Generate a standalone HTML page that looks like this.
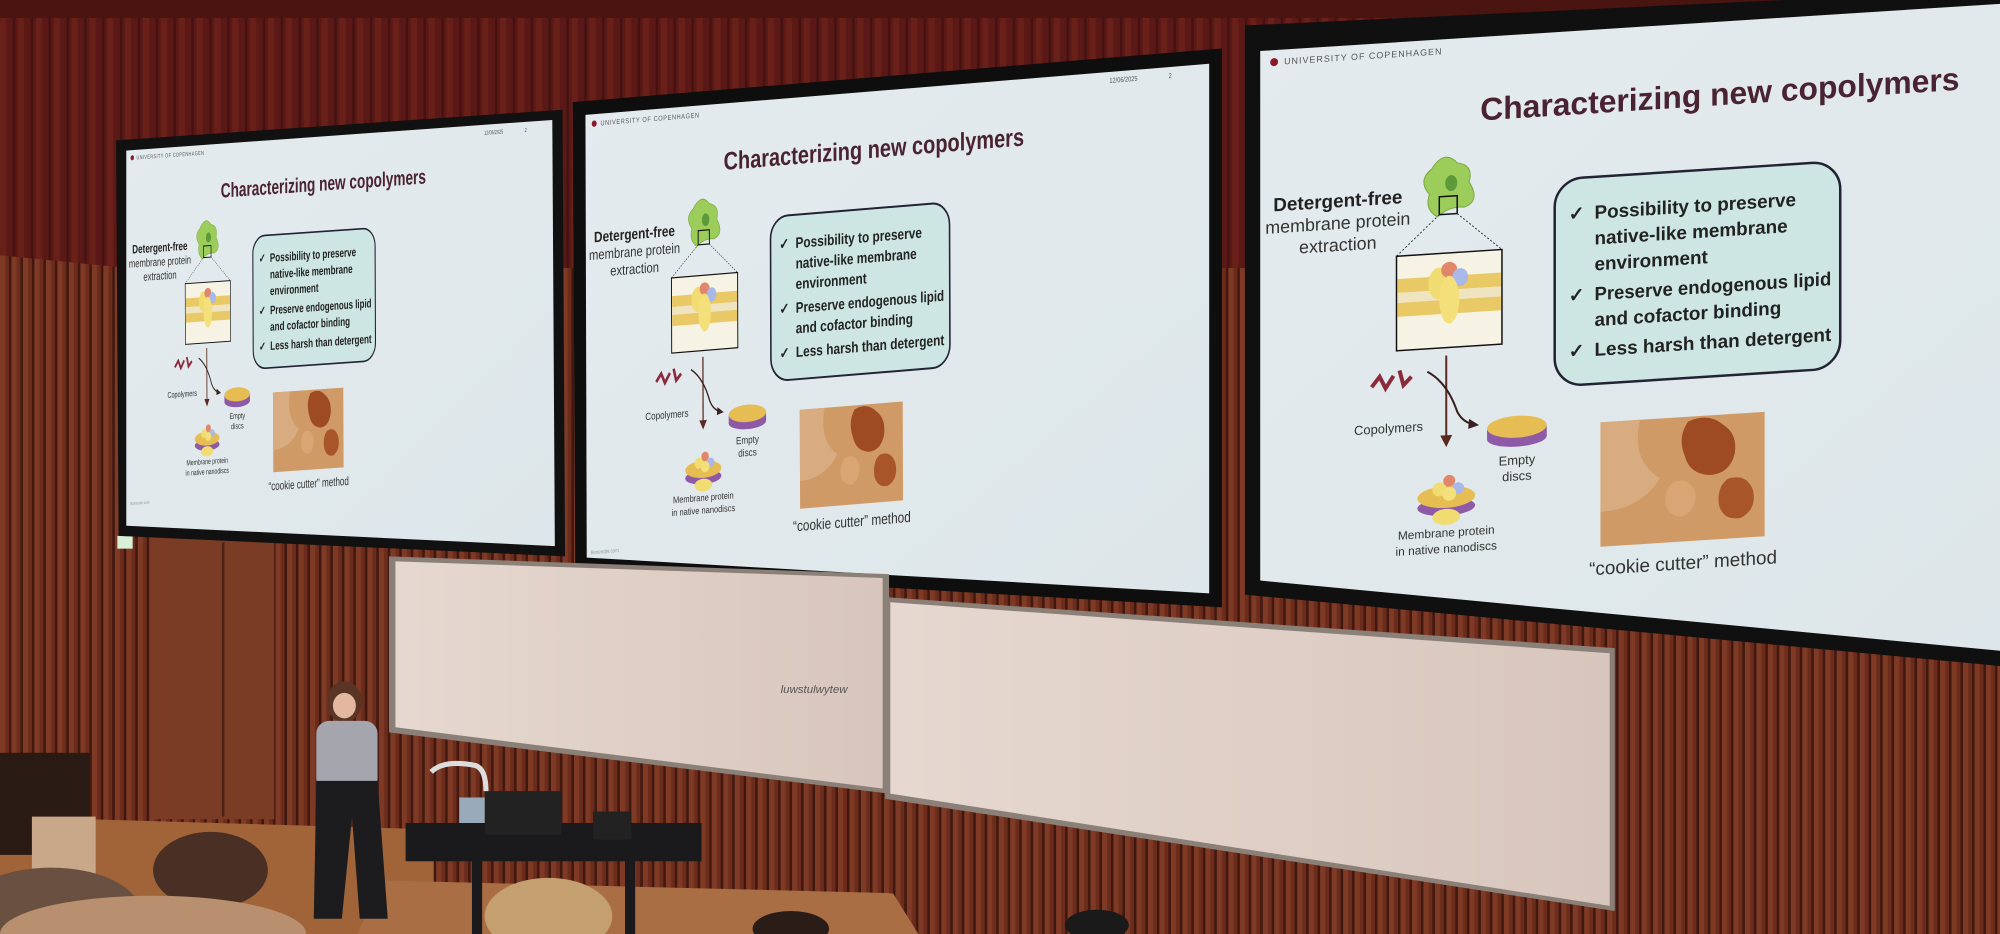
<!DOCTYPE html>
<html><head><meta charset="utf-8"><style>
html,body{margin:0;padding:0;background:#3a120f;}
svg{display:block;}
text{font-family:"Liberation Sans",sans-serif;}
</style></head><body>
<svg width="2000" height="934" viewBox="0 0 1568 732" preserveAspectRatio="none" xmlns="http://www.w3.org/2000/svg">
<defs>
<pattern id="curt" width="14" height="732" patternUnits="userSpaceOnUse">
<rect width="14" height="732" fill="#5a1816"/><rect x="0" width="5" height="732" fill="#682019"/><rect x="10" width="2" height="732" fill="#451210"/>
</pattern>
<pattern id="slat" width="9" height="732" patternUnits="userSpaceOnUse">
<rect width="9" height="732" fill="#6c2c1c"/><rect x="0" width="4" height="732" fill="#7e3a24"/><rect x="7" width="2" height="732" fill="#401810"/>
</pattern>
<linearGradient id="scr" x1="0" y1="0" x2="1" y2="1"><stop offset="0" stop-color="#e4ebee"/><stop offset="1" stop-color="#dde6ea"/></linearGradient>
<linearGradient id="wb" x1="0" y1="0" x2="1" y2="0"><stop offset="0" stop-color="#e6d8d0"/><stop offset="1" stop-color="#d8c6bc"/></linearGradient>
<clipPath id="c1"><polygon points="99,118 433,94 435,428 99,412"/></clipPath>
<clipPath id="c2"><polygon points="459,90 948,50 948,465 460,437"/></clipPath>
<clipPath id="c3"><polygon points="988,40 1568,3 1568,510 988,455"/></clipPath>
<g id="slide">
<circle cx="14" cy="12" r="4" fill="#8a1a2a"/>
<text x="24" y="15" font-size="9" letter-spacing="1" fill="#555">UNIVERSITY OF COPENHAGEN</text>
<text x="840" y="14" font-size="9" fill="#555">12/06/2025</text>
<text x="935" y="14" font-size="9" fill="#555">2</text>
<text x="462" y="84" font-size="32" font-weight="bold" text-anchor="middle" fill="#4a2332">Characterizing new copolymers</text>
<rect x="296" y="148" width="287" height="208" rx="28" fill="#cde6e4" stroke="#223" stroke-width="2.5"/>
<g font-size="19" font-weight="bold" fill="#222">
<text x="310" y="190">✓</text><text x="336" y="190">Possibility to preserve</text>
<text x="336" y="216">native-like membrane</text>
<text x="336" y="242">environment</text>
<text x="310" y="272">✓</text><text x="336" y="272" textLength="238" lengthAdjust="spacingAndGlyphs">Preserve endogenous lipid</text>
<text x="336" y="298">and cofactor binding</text>
<text x="310" y="328">✓</text><text x="336" y="328" textLength="238" lengthAdjust="spacingAndGlyphs">Less harsh than detergent</text>
</g>
<text x="78" y="162" font-size="19" font-weight="bold" text-anchor="middle" fill="#222">Detergent-free</text>
<text x="78" y="184" font-size="18" text-anchor="middle" fill="#333">membrane protein</text>
<text x="78" y="206" font-size="18" text-anchor="middle" fill="#333">extraction</text>
<path d="M172,130 Q185,110 198,125 Q215,128 210,145 Q222,165 205,170 Q190,168 178,178 Q165,170 170,155 Q158,140 172,130Z" fill="#9ccc5a" stroke="#7aa840"/>
<ellipse cx="192" cy="145" rx="6" ry="8" fill="#5c9a3a"/>
<rect x="180" y="158" width="18" height="18" fill="none" stroke="#111" stroke-width="1.5"/>
<line x1="180" y1="176" x2="137" y2="215" stroke="#333" stroke-dasharray="2,2"/>
<line x1="198" y1="176" x2="243" y2="215" stroke="#333" stroke-dasharray="2,2"/>
<rect x="137" y="215" width="106" height="95" fill="#f6f2e4" stroke="#111" stroke-width="1.5"/>
<rect x="138" y="238" width="104" height="14" fill="#e9c866"/>
<rect x="138" y="252" width="104" height="10" fill="#efe3c0"/>
<rect x="138" y="262" width="104" height="14" fill="#e9c866"/>
<ellipse cx="180" cy="245" rx="11" ry="16" fill="#f0dc70"/>
<ellipse cx="190" cy="232" rx="8" ry="8" fill="#e0866a"/>
<ellipse cx="201" cy="240" rx="8" ry="9" fill="#a8b8e8"/>
<ellipse cx="190" cy="262" rx="10" ry="24" fill="#f3e07a"/>
<path d="M112,345 l8,-10 l6,12 l8,-12 M140,330 l4,15 l8,-8" fill="none" stroke="#8a2a3a" stroke-width="4"/>
<text x="129" y="392" font-size="13" text-anchor="middle" fill="#333">Copolymers</text>
<line x1="187" y1="318" x2="187" y2="400" stroke="#5a2a20" stroke-width="2"/>
<polygon points="181,398 193,398 187,410" fill="#5a2a20"/>
<path d="M168,333 Q188,345 198,375 Q203,385 212,388" fill="none" stroke="#3a2020" stroke-width="2"/>
<polygon points="210,383 220,390 209,393" fill="#3a2020"/>
<ellipse cx="258" cy="405" rx="30" ry="9" fill="#8e5aa8"/>
<rect x="228" y="395" width="60" height="10" fill="#8e5aa8"/>
<ellipse cx="258" cy="394" rx="30" ry="11" fill="#e6bd52"/>
<text x="258" y="432" font-size="13" text-anchor="middle" fill="#333">Empty</text>
<text x="258" y="448" font-size="13" text-anchor="middle" fill="#333">discs</text>
<ellipse cx="187" cy="470" rx="29" ry="9" fill="#8e5aa8"/>
<ellipse cx="187" cy="480" rx="14" ry="8" fill="#f0dc70"/>
<ellipse cx="187" cy="460" rx="29" ry="11" fill="#e6bd52"/>
<circle cx="180" cy="452" r="7" fill="#f0dc70"/><circle cx="190" cy="444" r="6" fill="#e0866a"/><circle cx="199" cy="452" r="6" fill="#a8b8e8"/><circle cx="190" cy="457" r="7" fill="#f3e07a"/>
<text x="187" y="500" font-size="12" text-anchor="middle" fill="#333">Membrane protein</text>
<text x="187" y="516" font-size="12" text-anchor="middle" fill="#333">in native nanodiscs</text>
<rect x="342" y="395" width="165" height="125" fill="#cf9a66"/>
<path d="M430,400 q20,-8 35,5 q15,10 12,30 q-5,20 -25,20 q-20,-2 -25,-20 q-8,-20 3,-35z" fill="#9e4a22"/>
<path d="M470,460 q18,-5 25,12 q5,20 -12,28 q-18,2 -22,-15 q-2,-18 9,-25z" fill="#a8552a"/>
<path d="M415,460 q15,-5 22,10 q3,18 -12,25 q-15,0 -18,-15 q0,-15 8,-20z" fill="#d9a574"/>
<path d="M342,395 h40 q-10,40 20,60 q-20,30 -60,30z" fill="#d8ab80"/>
<text x="425" y="548" font-size="19" text-anchor="middle" fill="#333">“cookie cutter” method</text>
<text x="6" y="556" font-size="7" fill="#999">Biorender.com</text>
</g>
</defs>

<!-- background -->
<rect width="1568" height="732" fill="url(#curt)"/>
<rect x="0" y="0" width="1568" height="14" fill="#4a1411"/>
<rect x="0" y="210" width="1568" height="522" fill="url(#slat)"/>
<polygon points="0,200 100,210 100,640 0,640" fill="url(#slat)"/>
<rect x="120" y="420" width="95" height="222" fill="#7a3c24"/>
<line x1="175" y1="425" x2="175" y2="640" stroke="#4e2214" stroke-width="2"/>
<rect x="92" y="420" width="12" height="10" fill="#d8f0d8"/>
<polygon points="0,640 340,650 340,732 0,732" fill="#a06438"/>
<polygon points="300,690 700,700 720,732 280,732" fill="#aa6e44"/>

<!-- screen frames -->
<polygon points="91,110 441,86 443,436 93,420" fill="#111"/>
<polygon points="449,80 958,38 958,476 451,446" fill="#0e0e0e"/>
<polygon points="976,20 1568,-8 1568,522 976,466" fill="#101010"/>

<!-- screens -->
<polygon points="99,118 433,94 435,428 99,412" fill="url(#scr)"/>
<polygon points="459,90 948,50 948,465 460,437" fill="url(#scr)"/>
<polygon points="988,40 1568,3 1568,510 988,455" fill="url(#scr)"/>
<g clip-path="url(#c1)"><use href="#slide" transform="matrix(0.334,-0.023,0.002,0.5,99,118)"/></g>
<g clip-path="url(#c2)"><use href="#slide" transform="matrix(0.489,-0.04,0.002,0.62,459,90)"/></g>
<g clip-path="url(#c3)"><use href="#slide" transform="matrix(0.78,-0.05,0,0.78,988,40)"/></g>

<!-- whiteboards -->
<polygon points="305,436 697,450 697,622 305,574" fill="#8a8078"/>
<polygon points="310,440 692,453 692,618 310,570" fill="url(#wb)"/>
<polygon points="694,468 1266,508 1266,714 694,626" fill="#8a8078"/>
<polygon points="698,472 1262,512 1262,710 698,622" fill="url(#wb)"/>
<text x="612" y="543" font-size="9" fill="#555" font-style="italic">luwstulwytew</text>

<!-- desk and people -->
<rect x="318" y="645" width="232" height="30" fill="#1a1a1c"/>
<rect x="370" y="672" width="8" height="60" fill="#1a1a1c"/>
<rect x="490" y="672" width="8" height="60" fill="#1a1a1c"/>
<rect x="380" y="620" width="60" height="34" fill="#222"/>
<rect x="465" y="636" width="30" height="22" fill="#222"/>
<rect x="360" y="625" width="20" height="20" fill="#9ab"/>
<path d="M338,605 q10,-10 35,-5 q8,3 8,20" fill="none" stroke="#ddd" stroke-width="4"/>
<rect x="0" y="590" width="70" height="80" fill="#2a1a14"/>
<rect x="25" y="640" width="50" height="50" fill="#c8a888"/>
<!-- presenter -->
<ellipse cx="270" cy="550" rx="14" ry="16" fill="#5a3526"/>
<rect x="248" y="565" width="48" height="55" rx="10" fill="#a5a5ae"/>
<path d="M248,612 h48 l8,108 h-22 l-6,-80 l-8,80 h-22z" fill="#1c1c1e"/>
<ellipse cx="270" cy="553" rx="9" ry="10" fill="#e2b8a0"/>
<!-- audience heads -->
<ellipse cx="165" cy="682" rx="45" ry="30" fill="#4a3024"/>
<ellipse cx="40" cy="715" rx="70" ry="35" fill="#6a5040"/>
<ellipse cx="120" cy="732" rx="120" ry="30" fill="#b89070"/>
<ellipse cx="430" cy="718" rx="50" ry="30" fill="#c4a070"/>
<ellipse cx="620" cy="728" rx="30" ry="14" fill="#2a1c16"/>
<ellipse cx="860" cy="725" rx="25" ry="12" fill="#1a1a1a"/>
</svg>
</body></html>
